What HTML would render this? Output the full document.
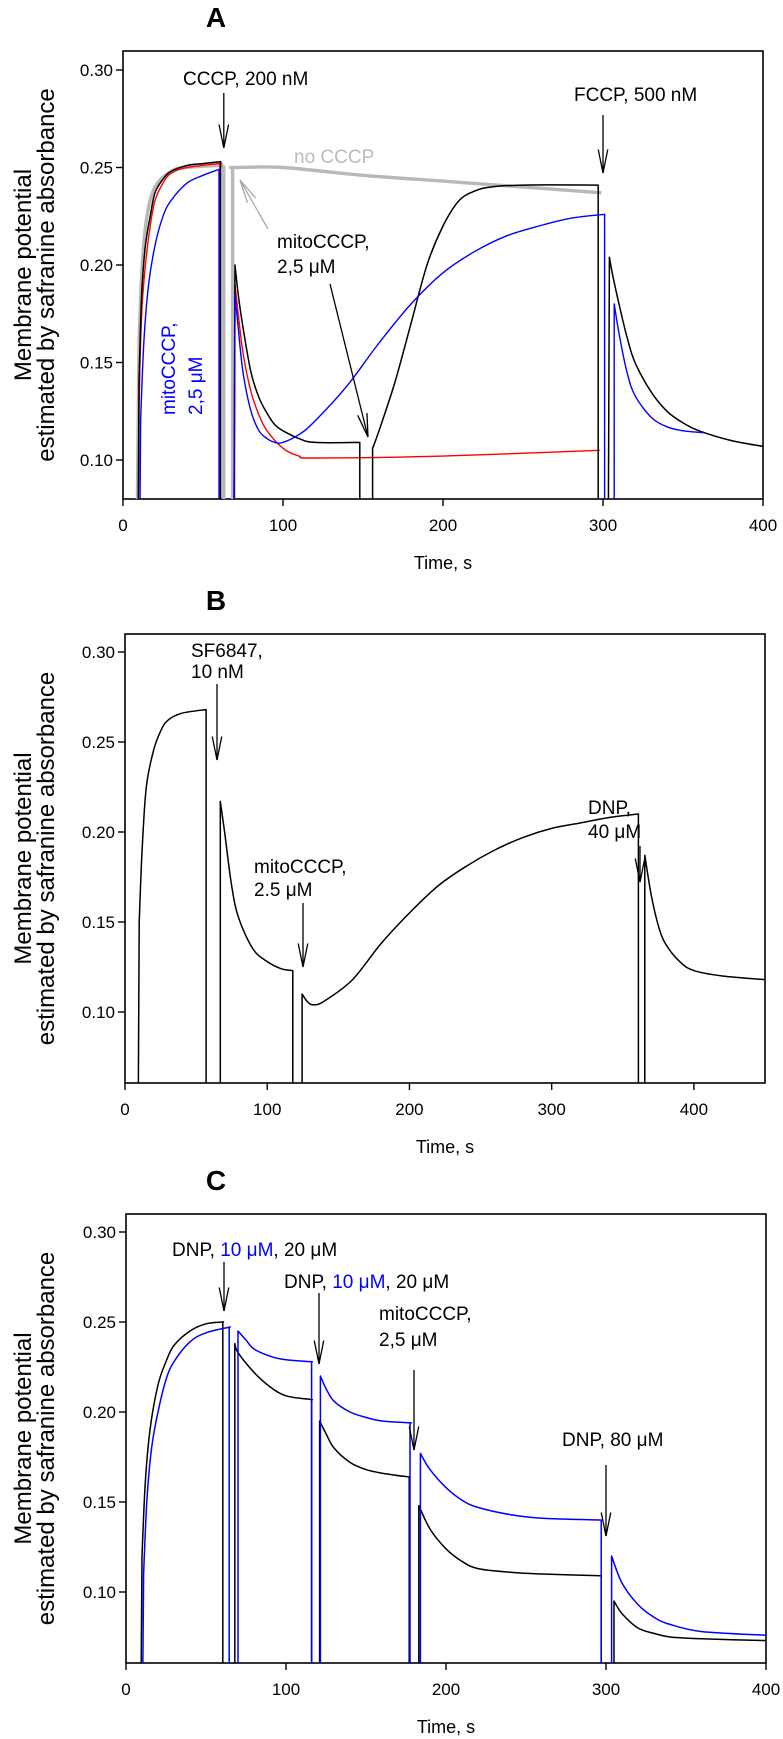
<!DOCTYPE html>
<html><head><meta charset="utf-8"><style>
html,body{margin:0;padding:0;background:#fff}
svg{display:block;font-family:"Liberation Sans",Arial,sans-serif}
</style></head><body>
<svg id="fig" xmlns="http://www.w3.org/2000/svg" width="783" height="1739" viewBox="0 0 783 1739"></svg>
<script>
// ---------- Panel A data ----------
const aBlackT=[9,10,11,12,14,17,20,25,30,40,50,61,61,null,69,70,72,75,80,85,90,95,100,110,120,148,148,null,156,156,160,170,180,190,200,210,220,230,250,297,297,null,303,304,306,310,315,320,330,340,350,360,380,400];
const aBlackV=[0,0.14,0.17,0.19,0.21,0.225,0.237,0.244,0.248,0.251,0.252,0.253,0,null,0,0.200,0.185,0.168,0.145,0.132,0.124,0.118,0.115,0.111,0.109,0.109,0,null,0,0.106,0.115,0.14,0.17,0.2,0.22,0.233,0.238,0.240,0.241,0.241,0,null,0,0.204,0.195,0.18,0.163,0.15,0.135,0.125,0.119,0.115,0.110,0.107];
const aRedT=[9,10,11,12,14,17,20,25,30,40,60,60.5,60.5,null,69.5,70,72,75,80,85,90,100,110,120,200,298];
const aRedV=[0,0.13,0.16,0.18,0.2,0.22,0.233,0.242,0.247,0.25,0.252,0.252,0,null,0,0.19,0.175,0.155,0.135,0.123,0.115,0.106,0.102,0.101,0.102,0.105];
const aBlueT=[10,11,13,16,20,25,30,40,50,60,60,null,69,70,72,75,80,85,90,95,100,110,120,140,160,180,200,220,240,260,280,301,301,null,307,307,310,315,320,330,340,350,363];
const aBlueV=[0,0.12,0.16,0.19,0.21,0.225,0.233,0.242,0.246,0.249,0,null,0,0.185,0.168,0.145,0.125,0.115,0.111,0.109,0.109,0.113,0.12,0.138,0.16,0.18,0.196,0.207,0.215,0.22,0.224,0.226,0,null,0,0.18,0.165,0.145,0.133,0.122,0.117,0.115,0.114];
const aGrayT=[8,10,12,15,20,30,40,60,63,63,null,68.5,68.5,70,100,150,200,250,299];
const aGrayV=[0,0.16,0.2,0.225,0.24,0.248,0.25,0.251,0.25,0,null,0,0.25,0.25,0.25,0.246,0.243,0.240,0.237];
const aXTicks=[0,100,200,300,400];
const aYTicks=[0.10,0.15,0.20,0.25,0.30];
// ---------- Panel B data ----------
const bBlackT=[9,10,12,15,20,25,30,40,57,57,null,67,67,70,75,80,90,100,110,118,118,null,124.5,124.5,128,132,140,160,180,200,220,240,260,280,300,320,340,361,361,null,365.5,365.5,370,375,380,390,400,420,450];
const bBlackV=[0,0.15,0.19,0.225,0.245,0.256,0.262,0.266,0.268,0,null,0,0.217,0.2,0.17,0.152,0.135,0.128,0.124,0.123,0,null,0,0.11,0.106,0.104,0.106,0.118,0.138,0.155,0.17,0.181,0.19,0.197,0.202,0.205,0.208,0.210,0,null,0,0.187,0.165,0.148,0.138,0.128,0.123,0.12,0.118];
const bXTicks=[0,100,200,300,400];
const bYTicks=[0.10,0.15,0.20,0.25,0.30];
// ---------- Panel C data ----------
const cBlackT=[9,10,12,15,20,25,30,40,50,60,60.5,60.5,null,68,68,70,80,90,100,115,116,116,null,121,121,125,130,140,150,160,176,177,177,null,183,183,190,200,210,220,240,260,297,297,null,305,305,310,320,330,340,360,400];
const cBlackV=[0,0.12,0.16,0.19,0.215,0.228,0.237,0.245,0.249,0.25,0.25,0,null,0,0.238,0.233,0.222,0.214,0.209,0.207,0.207,0,null,0,0.195,0.188,0.18,0.172,0.168,0.166,0.164,0.164,0,null,0,0.148,0.135,0.124,0.117,0.113,0.111,0.11,0.109,0,null,0,0.095,0.088,0.08,0.077,0.075,0.074,0.073];
const cBlueT=[10,11,13,16,20,25,30,40,50,64,64.5,64.5,null,70,70,75,80,90,100,115,116,116,null,121.5,121.5,125,130,140,150,160,177,177.5,177.5,null,184,184,190,200,210,220,240,260,297,297,null,303.5,303.5,310,320,330,340,360,400];
const cBlueV=[0,0.11,0.15,0.18,0.2,0.218,0.228,0.239,0.244,0.247,0.247,0,null,0,0.245,0.24,0.235,0.231,0.229,0.228,0.228,0,null,0,0.22,0.213,0.206,0.2,0.197,0.195,0.194,0.194,0,null,0,0.177,0.168,0.158,0.151,0.147,0.143,0.141,0.14,0,null,0,0.12,0.105,0.093,0.086,0.082,0.078,0.076];
const cXTicks=[0,100,200,300,400];
const cYTicks=[0.10,0.15,0.20,0.25,0.30];

const NS="http://www.w3.org/2000/svg";
const svg=document.getElementById('fig');
function el(tag,attrs,parent){const e=document.createElementNS(NS,tag);for(const k in attrs)e.setAttribute(k,attrs[k]);(parent||svg).appendChild(e);return e;}

const panels={
 A:{L:123,T:51,B:499,x0:123,xs:1.6,xmax:400,y0:70,yv0:0.30,ys:1950},
 B:{L:125,T:634,B:1083,x0:125,xs:640/450,xmax:450,y0:652,yv0:0.30,ys:1800},
 C:{L:126,T:1214,B:1663,x0:126,xs:1.6,xmax:400,y0:1232,yv0:0.30,ys:1800}
};
for(const k in panels){const p=panels[k];p.R=p.x0+p.xmax*p.xs;p.x=t=>p.x0+t*p.xs;p.y=v=>p.y0+(p.yv0-v)*p.ys;}

function drawAxes(key,p,xt,yt){
  const g=el('g',{});
  
  
  el('rect',{x:p.L,y:p.T,width:p.R-p.L,height:p.B-p.T,fill:'none',stroke:'#000','stroke-width':1.6},g);
  xt.forEach(t=>{
    el('line',{x1:p.x(t),x2:p.x(t),y1:p.B,y2:p.B+7,stroke:'#000','stroke-width':1.4},g);
    const tx=el('text',{x:p.x(t),y:p.B+32,'font-size':17,'text-anchor':'middle'},g);tx.textContent=t;
    
    
  });
  yt.forEach(v=>{
    el('line',{x1:p.L-7,x2:p.L,y1:p.y(v),y2:p.y(v),stroke:'#000','stroke-width':1.4},g);
    const tx=el('text',{x:p.L-10,y:p.y(v)+6,'font-size':17,'text-anchor':'end'},g);tx.textContent=v.toFixed(2);
    
    
  });
  const xl=el('text',{x:(p.L+p.R)/2,y:p.B+70,'font-size':18,'text-anchor':'middle'},g);xl.textContent='Time, s';
  
  
  const cy=(p.T+p.B)/2;
  const yl=el('text',{transform:`translate(31,${cy}) rotate(-90)`,'font-size':24,'text-anchor':'middle'},g);yl.textContent='Membrane potential';
  
  
  const yl2=el('text',{transform:`translate(54,${cy}) rotate(-90)`,'font-size':24,'text-anchor':'middle'},g);yl2.textContent='estimated by safranine absorbance';
  
  
  const pl=el('text',{x:216,y:p.T-24,'font-size':28,'font-weight':'bold','text-anchor':'middle'},g);pl.textContent=key;
  
  
  const cp=el('clipPath',{id:'clip'+key});
  el('rect',{x:p.L,y:p.T,width:p.R-p.L,height:p.B-p.T},cp);
}
function drawSeries(p,key,T,V,color,width,name){
  let d='';const runs=[];let cur=[];
  for(let i=0;i<T.length;i++){
    if(T[i]===null){if(cur.length)runs.push(cur);cur=[];continue;}
    cur.push([p.x(T[i]),p.y(V[i]),V[i]===0]);
  }
  if(cur.length)runs.push(cur);
  runs.forEach(r=>{
    d+='M'+r[0][0].toFixed(1)+','+r[0][1].toFixed(1);
    for(let i=0;i<r.length-1;i++){
      const a=r[i],b=r[i+1];
      if(a[2]||b[2]||Math.abs(b[0]-a[0])<0.01){d+='L'+b[0].toFixed(1)+','+b[1].toFixed(1);continue;}
      const pa=(i>0&&!r[i-1][2])?r[i-1]:a;
      const nb=(i+2<r.length&&!r[i+2][2])?r[i+2]:b;
      const c1x=a[0]+(b[0]-pa[0])/6,c1y=a[1]+(b[1]-pa[1])/6;
      const c2x=b[0]-(nb[0]-a[0])/6,c2y=b[1]-(nb[1]-a[1])/6;
      d+=`C${c1x.toFixed(1)},${c1y.toFixed(1)} ${c2x.toFixed(1)},${c2y.toFixed(1)} ${b[0].toFixed(1)},${b[1].toFixed(1)}`;
    }
  });
  const path=el('path',{d:d,fill:'none',stroke:color,'stroke-width':width,'clip-path':`url(#clip${key})`,'stroke-linejoin':'round'});
  
  
}
function arrow(x1,y1,x2,y2,color,name){
  const g=el('g',{stroke:color,'stroke-width':1.3,fill:'none'});
  
  
  el('line',{x1,y1,x2,y2},g);
  const a=Math.atan2(y2-y1,x2-x1),L=24,s=0.2;
  el('polyline',{points:`${x2-L*Math.cos(a-s)},${y2-L*Math.sin(a-s)} ${x2},${y2} ${x2-L*Math.cos(a+s)},${y2-L*Math.sin(a+s)}`},g);
}
function label(x,y,parts,size,name,extra){
  const t=el('text',Object.assign({x,y,'font-size':size||19},extra||{}));
  
  
  parts.forEach(([s,c])=>{const ts=el('tspan',c?{fill:c}:{},t);ts.textContent=s;});
  return t;
}

// Panel A
let p=panels.A;
drawAxes('A',p,aXTicks,aYTicks);
drawSeries(p,'A',aGrayT,aGrayV,'#b8b8b8',3.4,'series-no-cccp');
drawSeries(p,'A',aRedT,aRedV,'#ff0000',1.4,'series-red');
drawSeries(p,'A',aBlackT,aBlackV,'#000',1.5,'series-black');
drawSeries(p,'A',aBlueT,aBlueV,'#0000ff',1.4,'series-blue');
label(183,85,[['CCCP, 200 nM']],19,'annotation-cccp');
arrow(p.x(63),93,p.x(63),148,'#000','arrow-cccp');
label(294,163,[['no CCCP']],19,'annotation-no-cccp',{fill:'#bbbbbb'});
arrow(268,229,240,180,'#a8a8a8','arrow-no-cccp');
label(277,248,[['mitoCCCP,']],19,'annotation-mitocccp-a');
label(277,273,[['2,5 \u03bcM']],19,'annotation-mitocccp-a-conc');
arrow(330,284,368,437,'#000','arrow-mitocccp-a');
label(574,101,[['FCCP, 500 nM']],19,'annotation-fccp');
arrow(p.x(300),115,p.x(300),173,'#000','arrow-fccp');
label(0,0,[['mitoCCCP,']],19,'annotation-blue-mitocccp',{transform:'translate(175,415) rotate(-90)',fill:'#0000ff'});
label(0,0,[['2,5 \u03bcM']],19,'annotation-blue-conc',{transform:'translate(202,415) rotate(-90)',fill:'#0000ff'});

// Panel B
p=panels.B;
drawAxes('B',p,bXTicks,bYTicks);
drawSeries(p,'B',bBlackT,bBlackV,'#000',1.5,'series-b-black');
label(191,657,[['SF6847,']],19,'annotation-sf6847');
label(191,678,[['10 nM']],19,'annotation-sf6847-conc');
arrow(217,684,217,760,'#000','arrow-sf6847');
label(254,873,[['mitoCCCP,']],19,'annotation-mitocccp-b');
label(254,896,[['2.5 \u03bcM']],19,'annotation-mitocccp-b-conc');
arrow(303,903,303,967,'#000','arrow-mitocccp-b');
label(588,814,[['DNP,']],19,'annotation-dnp-b');
label(588,838,[['40 \u03bcM']],19,'annotation-dnp-b-conc');
arrow(640,846,640,882,'#000','arrow-dnp-b');

// Panel C
p=panels.C;
drawAxes('C',p,cXTicks,cYTicks);
drawSeries(p,'C',cBlackT,cBlackV,'#000',1.5,'series-c-black');
drawSeries(p,'C',cBlueT,cBlueV,'#0000ff',1.5,'series-c-blue');
label(172,1256,[['DNP, '],['10 \u03bcM','#0000ff'],[', 20 \u03bcM']],19,'annotation-dnp-c1');
arrow(224,1262,224,1311,'#000','arrow-dnp-c1');
label(284,1288,[['DNP, '],['10 \u03bcM','#0000ff'],[', 20 \u03bcM']],19,'annotation-dnp-c2');
arrow(319,1293,319,1364,'#000','arrow-dnp-c2');
label(379,1320,[['mitoCCCP,']],19,'annotation-mitocccp-c');
label(379,1346,[['2,5 \u03bcM']],19,'annotation-mitocccp-c-conc');
arrow(414,1370,414,1450,'#000','arrow-mitocccp-c');
label(562,1446,[['DNP, 80 \u03bcM']],19,'annotation-dnp-c3');
arrow(606,1465,606,1536,'#000','arrow-dnp-c3');
</script>
</body></html>
